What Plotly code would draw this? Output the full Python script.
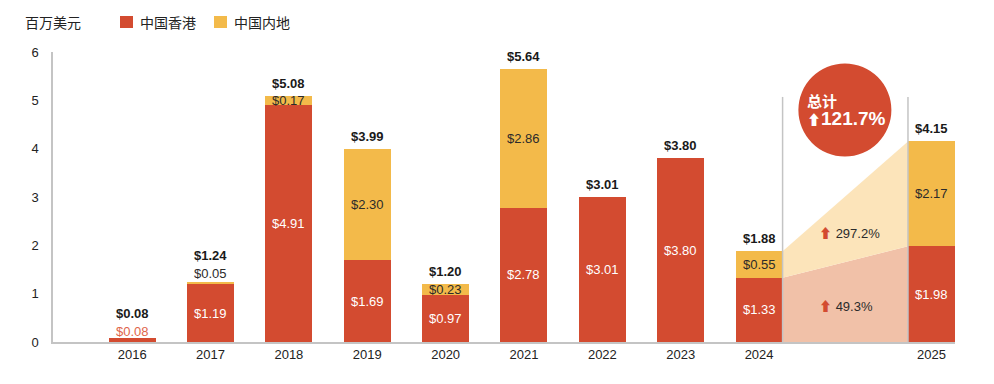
import plotly.graph_objects as go

# ---------------- data ----------------
years = ["2016", "2017", "2018", "2019", "2020", "2021", "2022", "2023", "2024", "2025"]
xpos = [0, 1, 2, 3, 4, 5, 6, 7, 8, 10.2]
hk = [0.08, 1.19, 4.91, 1.69, 0.97, 2.78, 3.01, 3.80, 1.33, 1.98]
mainland = [0.0, 0.05, 0.17, 2.30, 0.23, 2.86, 0.0, 0.0, 0.55, 2.17]
totals = [0.08, 1.24, 5.08, 3.99, 1.20, 5.64, 3.01, 3.80, 1.88, 4.15]
growth_labels = ["297.2%", "49.3%"]
total_growth = "121.7%"
y_ticks = [0, 1, 2, 3, 4, 5, 6]

RED = "#D34B30"
YEL = "#F3BA4A"
LIGHT_YEL = "#FCE4BA"
SALMON = "#F1C1A8"
GREY = "#C4C4C4"
FONT = "Liberation Sans, Arial, Noto Sans CJK SC, sans-serif"
CJK = "Noto Sans CJK SC, sans-serif"
BW = 0.6

fig = go.Figure()

# shaded transition areas between 2024 and 2025
xl = xpos[8] + BW / 2
xr = xpos[9] - BW / 2
fig.add_trace(go.Scatter(
    x=[xl, xl, xr, xr, xl], y=[0, hk[8], hk[9], 0, 0],
    fill="toself", fillcolor=SALMON, line=dict(width=0), mode="lines",
    hoverinfo="skip", showlegend=False))
fig.add_trace(go.Scatter(
    x=[xl, xl, xr, xr, xl], y=[hk[8], totals[8], totals[9], hk[9], hk[8]],
    fill="toself", fillcolor=LIGHT_YEL, line=dict(width=0), mode="lines",
    hoverinfo="skip", showlegend=False))

fig.add_trace(go.Bar(x=xpos, y=hk, width=BW, marker=dict(color=RED, line=dict(width=0)),
                     name="中国香港", showlegend=False))
fig.add_trace(go.Bar(x=xpos, y=mainland, width=BW, marker=dict(color=YEL, line=dict(width=0)),
                     name="中国内地", showlegend=False))

ann = []
for i, x in enumerate(xpos):
    # totals
    ys = 3
    if i == 0:
        ys = 15
    if i == 1:
        ys = 17
    ann.append(dict(x=x, y=totals[i], xref="x", yref="y", text=f"<b>${totals[i]:.2f}</b>",
                    showarrow=False, yanchor="bottom", yshift=ys,
                    font=dict(family=FONT, size=13, color="#1a1a1a")))
    # HK segment
    if i == 0:
        ann.append(dict(x=x, y=hk[i], xref="x", yref="y", text=f"${hk[i]:.2f}",
                        showarrow=False, yanchor="bottom", yshift=-3,
                        font=dict(family=FONT, size=13, color="#E0654A")))
    else:
        ann.append(dict(x=x, y=hk[i] / 2, xref="x", yref="y", text=f"${hk[i]:.2f}",
                        showarrow=False, yanchor="middle",
                        font=dict(family=FONT, size=13, color="white")))
    # mainland segment
    if mainland[i] > 0:
        if i == 1:
            ann.append(dict(x=x, y=totals[i], xref="x", yref="y", text=f"${mainland[i]:.2f}",
                            showarrow=False, yanchor="bottom", yshift=-1,
                            font=dict(family=FONT, size=13, color="#2b2b2b")))
        else:
            ann.append(dict(x=x, y=hk[i] + mainland[i] / 2, xref="x", yref="y",
                            text=f"${mainland[i]:.2f}", showarrow=False, yanchor="middle",
                            font=dict(family=FONT, size=13, color="#2b2b2b")))

# growth labels in shaded area
ann.append(dict(x=8.738, y=2.255, xref="x", yref="y", xanchor="left",
                text=f"<span style='color:{RED}'>⬆</span> {growth_labels[0]}", showarrow=False,
                font=dict(family=FONT, size=13, color="#2b2b2b")))
ann.append(dict(x=8.738, y=0.73, xref="x", yref="y", xanchor="left",
                text=f"<span style='color:{RED}'>⬆</span> {growth_labels[1]}", showarrow=False,
                font=dict(family=FONT, size=13, color="#2b2b2b")))

# circle texts
ann.append(dict(x=8.585, y=5.007, xref="x", yref="y", xanchor="left", text="<b>总计</b>",
                showarrow=False, font=dict(family=CJK, size=15, color="white")))
ann.append(dict(x=8.585, y=4.614, xref="x", yref="y", xanchor="left",
                text=f"<b><span style='font-size:14px'>⬆</span>{total_growth}</b>",
                showarrow=False, font=dict(family=FONT, size=19, color="white")))

# legend / unit label (paper coords; plot area x 53..955, y 52..342)
def px(p):
    return (p - 53) / 902.0

def py(p):
    return (342 - p) / 290.0

ann.append(dict(x=px(23), y=py(22), xref="paper", yref="paper", xanchor="left", yanchor="middle",
                text="百万美元", showarrow=False, font=dict(family=CJK, size=14, color="#222")))
ann.append(dict(x=px(138), y=py(22), xref="paper", yref="paper", xanchor="left", yanchor="middle",
                text="中国香港", showarrow=False, font=dict(family=CJK, size=14, color="#222")))
ann.append(dict(x=px(232), y=py(22), xref="paper", yref="paper", xanchor="left", yanchor="middle",
                text="中国内地", showarrow=False, font=dict(family=CJK, size=14, color="#222")))

shapes = [
    dict(type="rect", xref="paper", yref="paper", x0=px(120), x1=px(133), y0=py(28), y1=py(16),
         fillcolor=RED, line=dict(width=0)),
    dict(type="rect", xref="paper", yref="paper", x0=px(214), x1=px(227), y0=py(28), y1=py(16),
         fillcolor=YEL, line=dict(width=0)),
    dict(type="line", xref="x", yref="y", x0=xl, x1=xl, y0=0, y1=5.07,
         line=dict(color=GREY, width=1.5), layer="above"),
    dict(type="line", xref="x", yref="y", x0=xr, x1=xr, y0=0, y1=5.07,
         line=dict(color=GREY, width=1.5), layer="above"),
    dict(type="circle", xref="x", yref="y", xsizemode="pixel", ysizemode="pixel",
         xanchor=9.095, yanchor=4.80, x0=-46.5, x1=46.5, y0=-46.5, y1=46.5,
         fillcolor=RED, line=dict(width=0), layer="above"),
]

fig.update_layout(
    width=994, height=384,
    margin=dict(l=53, r=39, t=52, b=42),
    paper_bgcolor="white", plot_bgcolor="white",
    barmode="stack", bargap=0,
    showlegend=False,
    annotations=ann, shapes=shapes,
    font=dict(family=FONT, size=13, color="#222"),
    xaxis=dict(range=[-1.01, 10.5], tickvals=xpos, ticktext=years, showgrid=False,
               zeroline=False, showline=True, linecolor=GREY, linewidth=1.5, ticks="",
               tickfont=dict(family=FONT, size=13, color="#222"), fixedrange=True),
    yaxis=dict(range=[0, 6], tickvals=y_ticks, showgrid=False, zeroline=False,
               showline=True, linecolor=GREY, linewidth=1.5, ticks="", ticklabelstandoff=10,
               tickfont=dict(family=FONT, size=13, color="#222"), fixedrange=True),
)

fig.write_html("out.html", config={"displayModeBar": False},
               post_script="document.body.style.margin='0';document.body.style.overflow='hidden';")
